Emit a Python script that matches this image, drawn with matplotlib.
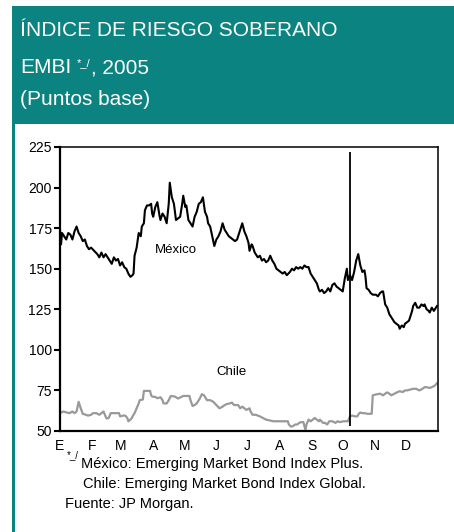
import matplotlib
matplotlib.use("Agg")
import matplotlib.pyplot as plt
from matplotlib.patches import Rectangle

plt.rcParams['font.family'] = ['Liberation Sans', 'DejaVu Sans']

# day of year (2005) and EMBI spread
mex_day = [0, 1, 2, 4, 6, 8, 10, 12, 14, 16, 18, 20, 22, 24, 26, 28, 30, 33, 36, 38,
           40, 42, 44, 46, 48, 50, 52, 54, 56, 58, 60, 62, 64, 66, 68, 70, 71, 72, 74, 76,
           78, 79, 81, 82, 84, 86, 88, 89, 90, 92, 94, 96, 97, 99, 101, 103, 105, 106, 108, 110,
           112, 114, 116, 118, 119, 121, 122, 124, 126, 128, 130, 132, 134, 136, 138, 140, 142, 143, 145, 147,
           149, 151, 153, 155, 157, 159, 161, 163, 165, 167, 169, 171, 173, 175, 176, 178, 180, 182, 183, 185,
           186, 188, 190, 191, 193, 195, 197, 199, 201, 203, 205, 207, 209, 211, 213, 215, 217, 219, 222, 224,
           226, 228, 230, 232, 234, 236, 238, 240, 242, 244, 246, 248, 250, 251, 253, 255, 257, 259, 261, 263,
           265, 267, 269, 271, 273, 275, 277, 278, 280, 282, 284, 286, 288, 290, 292, 294, 295, 296, 298, 300,
           302, 305, 307, 309, 311, 312, 313, 314, 316, 318, 319, 321, 323, 325, 327, 328, 330, 332, 333, 335,
           337, 338, 340, 341, 343, 345, 347, 349, 351, 352, 354, 356, 357, 359, 361, 362, 364]
mex_val = [174, 165, 172, 170, 168, 172, 171, 168, 173, 176, 172, 170, 167, 168, 164, 162, 163, 161, 159, 157,
           160, 157, 159, 157, 155, 153, 157, 155, 156, 152, 154, 151, 150, 147, 145, 146, 147, 158, 163, 172,
           170, 176, 178, 186, 189, 189, 190, 184, 182, 188, 191, 183, 180, 184, 182, 178, 190, 203, 194, 190,
           180, 181, 182, 190, 195, 188, 189, 180, 178, 176, 182, 185, 190, 191, 194, 185, 182, 178, 176, 170,
           164, 168, 170, 173, 178, 174, 172, 170, 169, 168, 167, 168, 172, 176, 178, 173, 170, 166, 161, 165,
           164, 160, 158, 157, 158, 155, 156, 154, 155, 158, 155, 153, 150, 149, 148, 147, 148, 146, 148, 150,
           149, 151, 150, 151, 150, 152, 151, 151, 147, 145, 143, 141, 137, 136, 137, 135, 136, 138, 136, 140,
           141, 139, 138, 137, 136, 144, 150, 143, 146, 143, 148, 155, 159, 152, 148, 149, 145, 138, 137, 135,
           134, 134, 133, 135, 136, 136, 132, 128, 126, 122, 121, 119, 117, 116, 115, 113, 115, 114, 116, 117,
           118, 120, 124, 127, 129, 126, 126, 128, 127, 128, 125, 124, 123, 126, 124, 125, 127]

chile_day = [0, 3, 6, 9, 12, 14, 16, 18, 20, 22, 25, 27, 30, 32, 35, 38, 40, 42, 44, 45,
             47, 49, 51, 55, 57, 58, 61, 63, 65, 66, 68, 69, 71, 72, 74, 76, 77, 80, 81, 87,
             88, 89, 92, 94, 97, 99, 100, 103, 105, 107, 111, 114, 117, 119, 125, 126, 128, 130, 132, 135,
             137, 139, 142, 145, 148, 151, 154, 157, 159, 161, 164, 166, 168, 169, 172, 174, 176, 178, 180, 183,
             184, 186, 189, 193, 196, 199, 203, 206, 212, 216, 220, 221, 223, 225, 227, 229, 231, 233, 235, 236,
             237, 238, 240, 242, 244, 246, 248, 250, 251, 254, 256, 258, 260, 263, 266, 268, 270, 274, 278, 280,
             282, 285, 287, 289, 290, 292, 294, 297, 301, 302, 305, 309, 312, 314, 316, 318, 320, 323, 326, 328,
             331, 333, 335, 338, 341, 344, 347, 350, 352, 354, 357, 360, 362, 364]
chile_val = [61, 62, 61.5, 61, 62, 61, 62, 68, 64, 60.6, 60, 59.5, 60, 61, 61, 60, 61, 62, 59, 57.7,
             58, 61, 61, 61, 61, 59, 59.5, 59.5, 58, 56, 57, 57.7, 60, 61, 64, 67, 69, 69.4, 74.7, 74.7,
             72, 71.2, 71, 70.2, 70.8, 69, 67, 67, 69, 71.6, 71.2, 70, 71, 71.6, 71.6, 69, 65.4, 66, 67, 70,
             72.7, 72, 69, 69, 68, 66, 64, 65, 66, 66.6, 67, 67.5, 66, 66, 66, 64, 65, 64, 63, 64,
             62, 60, 60, 59, 58, 57, 56.4, 56, 56, 56, 56, 54, 52.7, 53, 54, 54, 55, 55.5, 55.5, 53,
             51, 54, 57, 56, 57, 58, 57, 56, 57, 55, 55, 54, 56, 56, 55, 56, 55.5, 56, 56, 59,
             59.5, 59, 59, 61, 61.4, 61, 61, 60.6, 60.6, 72, 72.5, 73, 72, 73, 73.8, 73, 72, 73, 74, 74.5,
             74, 75, 75, 75.5, 76, 76, 75, 76, 77, 77, 76.5, 77.3, 78, 79.4]

month_start = [0, 31, 59, 90, 120, 151, 181, 212, 243, 273, 304, 334]
month_lbl = ['E', 'F', 'M', 'A', 'M', 'J', 'J', 'A', 'S', 'O', 'N', 'D']
y_ticks = [50, 75, 100, 125, 150, 175, 200, 225]
marker_day = 280

teal = '#0b8380'

fig = plt.figure(figsize=(4.54, 5.32), dpi=100)

# background frame (pixel coordinates)
bg = fig.add_axes([0, 0, 1, 1])
bg.set_xlim(0, 454)
bg.set_ylim(532, 0)
bg.axis('off')
bg.add_patch(Rectangle((12, 6), 442, 118, color=teal, lw=0))
bg.add_patch(Rectangle((12, 6), 2.6, 526, color=teal, lw=0))

bg.text(20, 36, 'ÍNDICE DE RIESGO SOBERANO', color='white', fontsize=15, va='baseline')
t = bg.text(20, 73, 'EMBI', color='white', fontsize=15, va='baseline')
s = bg.annotate('*_/', xy=(1, 1), xycoords=t, xytext=(4, 0), textcoords='offset points',
                color='white', fontsize=8, va='top', ha='left')
bg.annotate(', 2005', xy=(1, 0), xycoords=(s, t), xytext=(0, 0), textcoords='offset points',
            color='white', fontsize=15, va='bottom', ha='left')
bg.text(20, 105, '(Puntos base)', color='white', fontsize=15, va='baseline')

# footnotes
bg.text(67, 458, '*_/', fontsize=7, va='baseline')
bg.text(81, 468, 'México: Emerging Market Bond Index Plus.', fontsize=10.5, va='baseline')
bg.text(83, 488, 'Chile: Emerging Market Bond Index Global.', fontsize=10.5, va='baseline')
bg.text(65, 508, 'Fuente: JP Morgan.', fontsize=10.5, va='baseline')

# chart
ax = fig.add_axes([60 / 454, 1 - 431 / 532, 378 / 454, 284 / 532])
ax.plot(mex_day, mex_val, color='black', lw=1.5)
ax.plot(chile_day, chile_val, color='#999999', lw=1.6)
ax.vlines(marker_day, 53, 222, color='black', lw=1.3)

ax.text(112, 161.5, 'México', fontsize=9.5, ha='center', va='center')
ax.text(166, 86.4, 'Chile', fontsize=9.5, ha='center', va='center')

ax.set_xlim(0, 365)
ax.set_ylim(50, 225)
ax.set_yticks(y_ticks)
ax.tick_params(axis='y', direction='out', length=4, width=1.5, labelsize=10, pad=2)
ax.set_xticks(month_start)
ax.set_xticklabels(month_lbl)
ax.tick_params(axis='x', length=0, labelsize=10, pad=6)

for side in ['left', 'bottom']:
    ax.spines[side].set_linewidth(1.6)
for side in ['top', 'right']:
    ax.spines[side].set_linewidth(1.1)

fig.savefig('out.png', dpi=100)
